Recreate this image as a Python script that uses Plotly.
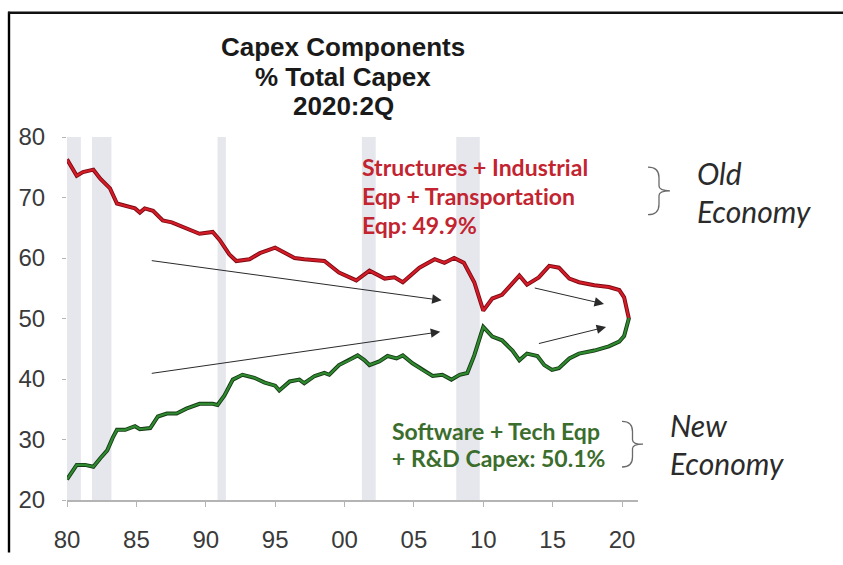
import plotly.graph_objects as go

# ---------------- data ----------------
old_years = [1980.0, 1980.25, 1980.7, 1981.15, 1981.9, 1982.4, 1983.1, 1983.6, 1984.2, 1984.9,
             1985.25, 1985.6, 1986.2, 1986.9, 1987.55, 1988.1, 1988.85, 1989.55, 1990.5, 1991.0,
             1991.7, 1992.2, 1993.15, 1993.9, 1995.0, 1995.7, 1996.4, 1997.1, 1998.55, 1999.6,
             2000.85, 2001.8, 2002.9, 2003.6, 2004.2, 2005.4, 2006.5, 2007.2, 2007.9, 2008.6,
             2009.35, 2010.0, 2010.65, 2011.35, 2012.1, 2012.6, 2013.15, 2014.0, 2014.75, 2015.45,
             2016.2, 2016.9, 2018.0, 2019.05, 2019.8, 2020.15, 2020.5]
old_values = [76.3, 75.3, 73.6, 74.2, 74.6, 73.1, 71.5, 69.0, 68.6, 68.2,
              67.5, 68.2, 67.8, 66.2, 65.9, 65.4, 64.6, 64.0, 64.3, 63.0,
              60.6, 59.5, 59.8, 60.8, 61.7, 60.8, 60.0, 59.8, 59.5, 57.6,
              56.3, 57.9, 56.6, 56.8, 56.0, 58.4, 59.8, 59.2, 60.0, 59.2,
              56.0, 51.3, 53.3, 53.9, 55.9, 57.1, 55.6, 56.8, 58.7, 58.4,
              56.6, 56.0, 55.5, 55.2, 54.7, 53.5, 49.9]

new_years = [1980.0, 1980.35, 1980.7, 1981.3, 1981.9, 1982.4, 1982.9, 1983.3, 1983.6, 1984.2,
             1984.9, 1985.25, 1986.0, 1986.55, 1987.2, 1987.9, 1988.6, 1989.55, 1990.5, 1990.85,
             1991.35, 1991.95, 1992.65, 1993.5, 1994.25, 1995.0, 1995.3, 1996.05, 1996.75, 1997.1,
             1997.85, 1998.55, 1998.9, 1999.6, 2000.35, 2000.95, 2001.45, 2001.8, 2002.5, 2003.1,
             2003.75, 2004.2, 2004.9, 2005.6, 2006.35, 2007.05, 2007.7, 2008.3, 2008.85, 2009.35,
             2010.0, 2010.65, 2011.35, 2012.1, 2012.6, 2013.15, 2013.9, 2014.4, 2014.95, 2015.45,
             2016.2, 2016.9, 2018.0, 2019.05, 2019.8, 2020.15, 2020.5]
new_values = [23.4, 24.7, 25.8, 25.8, 25.5, 26.9, 28.2, 30.3, 31.6, 31.6,
              32.2, 31.7, 31.9, 33.8, 34.3, 34.3, 35.1, 35.9, 35.9, 35.7,
              37.3, 39.9, 40.7, 40.2, 39.4, 38.9, 38.1, 39.6, 39.9, 39.3,
              40.5, 41.0, 40.7, 42.3, 43.1, 43.9, 43.1, 42.3, 42.9, 43.8,
              43.4, 43.9, 42.6, 41.5, 40.5, 40.7, 39.9, 40.7, 41.0, 43.9,
              48.6, 47.0, 46.4, 44.7, 43.1, 44.2, 43.8, 42.3, 41.5, 41.8,
              43.4, 44.2, 44.7, 45.4, 46.2, 47.1, 50.1]

recession_start = [1980.0, 1981.8, 1990.85, 2001.25, 2008.05]
recession_end = [1981.0, 1983.2, 1991.45, 2002.25, 2009.75]

x_tick_vals = [1980, 1985, 1990, 1995, 2000, 2005, 2010, 2015, 2020]
x_tick_text = ["80", "85", "90", "95", "00", "05", "10", "15", "20"]
y_tick_vals = [20, 30, 40, 50, 60, 70, 80]

title_lines = ["Capex Components", "% Total Capex", "2020:2Q"]
# \u200c keeps the font from merging "ti" into a ligature
old_label_lines = ["Structures + Industrial", "Eqp + Transportat\u200cion", "Eqp: 49.9%"]
new_label_lines = ["Software + Tech Eqp", "+ R&amp;D Capex: 50.1%"]

# arrows: (tail_x, tail_y, head_x, head_y) in data units
arrows = [
    (1986.0, 59.6, 2007.0, 53.0),
    (1986.0, 40.9, 2006.9, 47.8),
    (2013.6, 55.1, 2018.7, 52.4),
    (2013.9, 45.8, 2018.85, 48.6),
]

# ---------------- layout helpers (pixel -> paper) ----------------
W, H = 843, 565
L, R, T, B = 67, 638, 137, 511


def px(xp):
    return (xp - L) / (R - L)


def py(yp):
    return (B - yp) / (B - T)


fig = go.Figure()

# lines: dark outline + brighter core
fig.add_trace(go.Scatter(x=old_years, y=old_values, mode="lines",
                         line=dict(color="#7d0a12", width=4.0), hoverinfo="skip", showlegend=False))
fig.add_trace(go.Scatter(x=old_years, y=old_values, mode="lines",
                         line=dict(color="#d41c28", width=2.2), showlegend=False))
fig.add_trace(go.Scatter(x=new_years, y=new_values, mode="lines",
                         line=dict(color="#163a16", width=4.0), hoverinfo="skip", showlegend=False))
fig.add_trace(go.Scatter(x=new_years, y=new_values, mode="lines",
                         line=dict(color="#2f8a2f", width=2.2), showlegend=False))

annotations = []

# arrows
for tx, ty, hx, hy in arrows:
    annotations.append(dict(x=hx, y=hy, ax=tx, ay=ty, xref="x", yref="y", axref="x", ayref="y",
                            text="", showarrow=True, arrowhead=2, arrowsize=1.9, arrowwidth=1,
                            arrowcolor="#2a2a2a"))

# title (one annotation per line to control spacing)
title_font = dict(family="Liberation Sans, Arial, sans-serif", size=26, color="#1a1a1a")
for txt, yc in zip(title_lines, [44, 75, 105]):
    annotations.append(dict(x=px(343), y=py(yc), xref="paper", yref="paper", showarrow=False,
                            xanchor="center", yanchor="middle", text="<b>" + txt + "</b>",
                            font=title_font))

red_font = dict(family="Lato, Open Sans, sans-serif", size=23, color="#c22430")
for txt, yc in zip(old_label_lines, [168, 198, 228]):
    annotations.append(dict(x=px(360), y=py(yc), xref="paper", yref="paper", showarrow=False,
                            xanchor="left", yanchor="middle", text="<b>" + txt + "</b>", font=red_font))

green_font = dict(family="Lato, Open Sans, sans-serif", size=23, color="#3b6d2c")
for txt, yc in zip(new_label_lines, [440, 468]):
    annotations.append(dict(x=px(390), y=py(yc), xref="paper", yref="paper", showarrow=False,
                            xanchor="left", yanchor="middle", text="<b>" + txt + "</b>", font=green_font))

econ_font = dict(family="Lato, Open Sans, sans-serif", size=30, color="#2b2b2b")
for txt, xl, yc in [("Old", 695, 174), ("Economy", 695, 213), ("New", 668, 434), ("Economy", 668, 473)]:
    annotations.append(dict(x=px(xl), y=py(yc), xref="paper", yref="paper", showarrow=False,
                            xanchor="left", yanchor="middle", text="<i>" + txt + "</i>", font=econ_font))

fig.update_layout(
    width=W, height=H,
    margin=dict(l=L, r=W - R, t=T, b=H - B, pad=0),
    paper_bgcolor="white", plot_bgcolor="white",
    showlegend=False,
    annotations=annotations,
)

# recession shading
for s, e in zip(recession_start, recession_end):
    fig.add_vrect(x0=s, x1=e, fillcolor="rgba(200,202,214,0.45)", line_width=0, layer="below")


def brace(x0, y0, x1, y1):
    xm = (x0 + x1) / 2
    ym = (y0 + y1) / 2
    h = y1 - y0
    pts = [
        ("M", [(x0, y0)]),
        ("Q", [(xm, y0), (xm, y0 + 0.22 * h)]),
        ("L", [(xm, ym - 0.1 * h)]),
        ("Q", [(xm, ym), (x1, ym)]),
        ("Q", [(xm, ym), (xm, ym + 0.1 * h)]),
        ("L", [(xm, y1 - 0.22 * h)]),
        ("Q", [(xm, y1), (x0, y1)]),
    ]
    path = ""
    for cmd, ps in pts:
        path += cmd + " " + " ".join(f"{px(a):.5f},{py(b):.5f}" for a, b in ps) + " "
    return dict(type="path", path=path.strip(), xref="paper", yref="paper",
                fillcolor="rgba(0,0,0,0)", line=dict(color="#6a6a6a", width=1.3))


fig.add_shape(**brace(648, 168, 670, 217))
fig.add_shape(**brace(622, 430, 643, 477))

# picture frame (left and top edges)
fig.add_shape(type="line", xref="paper", yref="paper", x0=px(9), x1=px(9), y0=py(8), y1=py(565),
              line=dict(color="#000000", width=2.4))
fig.add_shape(type="line", xref="paper", yref="paper", x0=px(8), x1=px(843), y0=py(9), y1=py(9),
              line=dict(color="#111111", width=2.4))

tick_font = dict(family="Liberation Sans, Arial, sans-serif", size=24, color="#3a3a3a")
fig.update_xaxes(range=[1980, 2021.15], tickvals=x_tick_vals, ticktext=x_tick_text,
                 showgrid=False, zeroline=False, showline=True, linecolor="#b4b4b4", linewidth=1.5,
                 ticks="outside", ticklen=5, tickcolor="#b4b4b4", tickwidth=1,
                 tickfont=tick_font, ticklabelstandoff=12)
fig.update_yaxes(range=[20, 80], tickvals=y_tick_vals,
                 showgrid=False, zeroline=False, showline=False,
                 ticks="outside", ticklen=4, tickcolor="#b4b4b4", tickwidth=1,
                 tickfont=tick_font, ticklabelstandoff=12)

fig.write_html("out.html")
